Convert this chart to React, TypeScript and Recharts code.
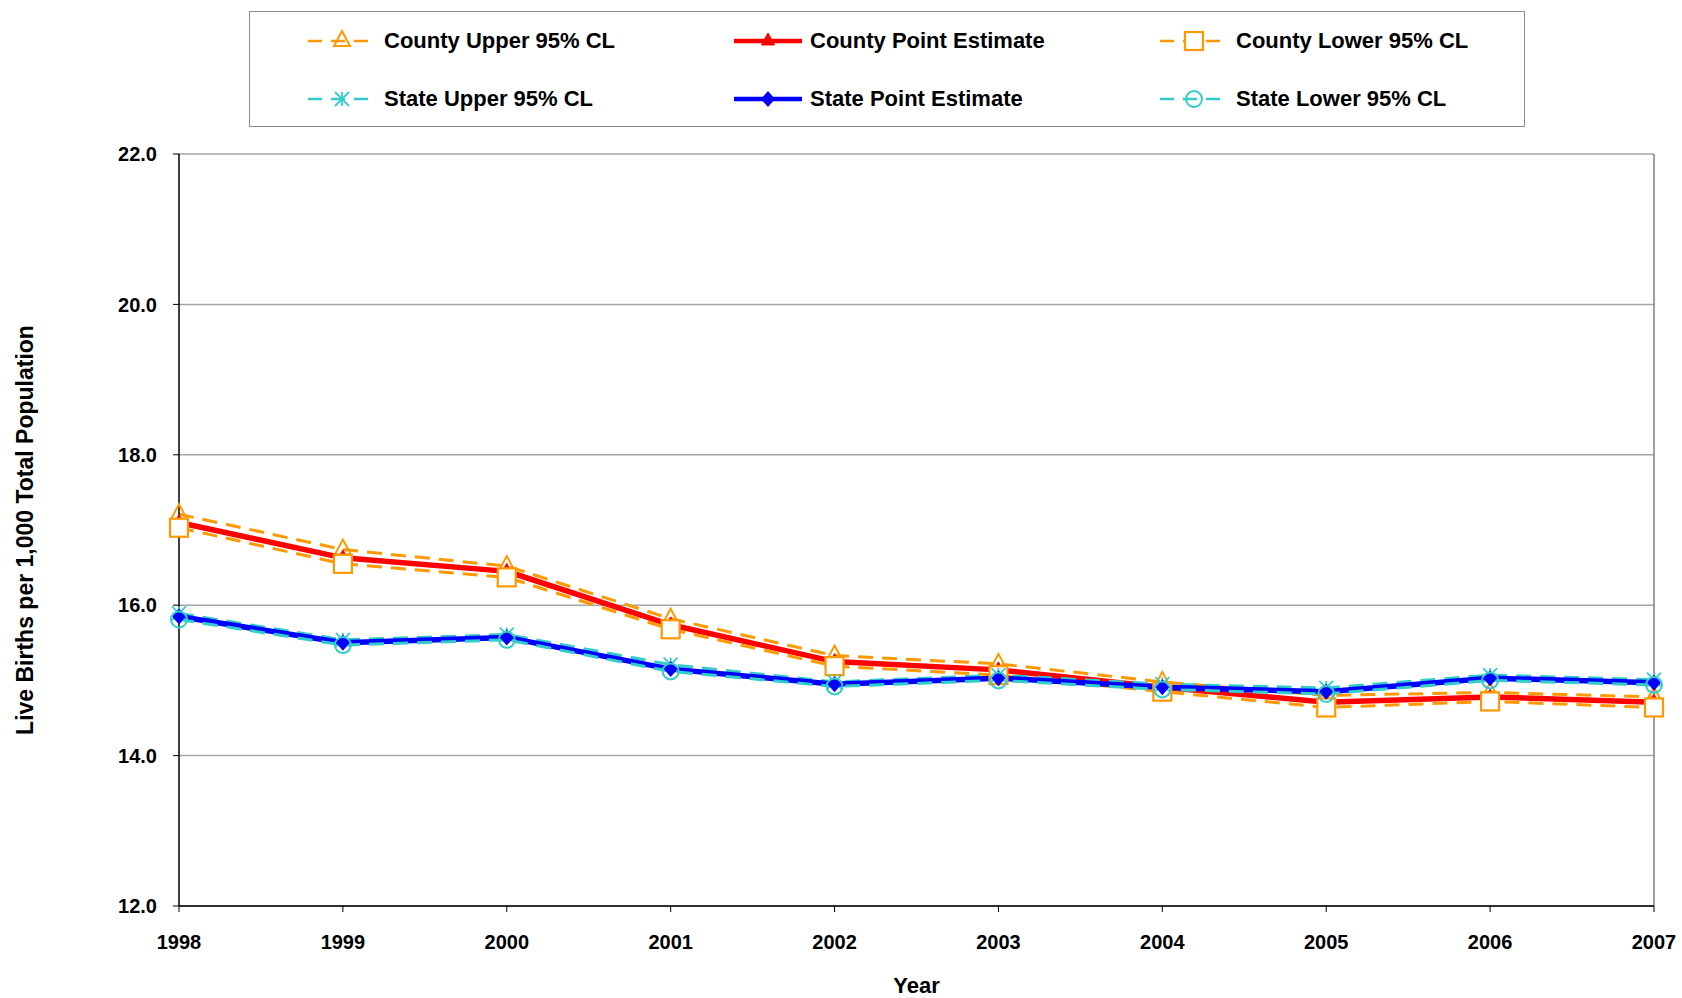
import React from "react";
import {
  LineChart,
  Line,
  XAxis,
  YAxis,
  CartesianGrid,
  ReferenceLine,
} from "recharts";

const years = ["1998", "1999", "2000", "2001", "2002", "2003", "2004", "2005", "2006", "2007"];

const countyUpper = [17.21, 16.74, 16.52, 15.82, 15.33, 15.22, 14.98, 14.8, 14.84, 14.78];
const countyPoint = [17.1, 16.63, 16.45, 15.74, 15.25, 15.14, 14.91, 14.71, 14.78, 14.71];
const countyLower = [17.03, 16.55, 16.37, 15.68, 15.19, 15.07, 14.85, 14.64, 14.72, 14.64];
const stateUpper = [15.89, 15.54, 15.61, 15.21, 14.98, 15.07, 14.95, 14.9, 15.07, 15.01];
const statePoint = [15.85, 15.5, 15.57, 15.15, 14.95, 15.03, 14.91, 14.85, 15.03, 14.97];
const stateLower = [15.81, 15.47, 15.54, 15.12, 14.92, 15.0, 14.88, 14.82, 15.0, 14.94];

const yTicks = [12, 14, 16, 18, 20, 22];

const ORANGE = "#FF9900";
const RED = "#FF0000";
const CYAN = "#33CCCC";
const BLUE = "#0000FF";
const FONT = "'Liberation Sans', Arial, sans-serif";

type MarkerKind = "triangleOpen" | "triangle" | "square" | "star" | "diamond" | "circle";

type Series = {
  key: string;
  name: string;
  color: string;
  dashed: boolean;
  marker: MarkerKind;
};

const series: Series[] = [
  { key: "countyUpper", name: "County Upper 95% CL", color: ORANGE, dashed: true, marker: "triangleOpen" },
  { key: "countyPoint", name: "County Point Estimate", color: RED, dashed: false, marker: "triangle" },
  { key: "countyLower", name: "County Lower 95% CL", color: ORANGE, dashed: true, marker: "square" },
  { key: "stateUpper", name: "State Upper 95% CL", color: CYAN, dashed: true, marker: "star" },
  { key: "statePoint", name: "State Point Estimate", color: BLUE, dashed: false, marker: "diamond" },
  { key: "stateLower", name: "State Lower 95% CL", color: CYAN, dashed: true, marker: "circle" },
];

const data = years.map((year, i) => ({
  year,
  countyUpper: countyUpper[i],
  countyPoint: countyPoint[i],
  countyLower: countyLower[i],
  stateUpper: stateUpper[i],
  statePoint: statePoint[i],
  stateLower: stateLower[i],
}));

function Marker({ kind, cx, cy, color }: { kind: MarkerKind; cx: number; cy: number; color: string }) {
  switch (kind) {
    case "triangleOpen":
      return (
        <polygon
          points={`${cx},${cy - 10} ${cx + 8},${cy + 5} ${cx - 8},${cy + 5}`}
          fill="none"
          stroke={color}
          strokeWidth={2}
        />
      );
    case "triangle":
      return (
        <polygon points={`${cx},${cy - 8} ${cx + 6.5},${cy + 4} ${cx - 6.5},${cy + 4}`} fill={color} stroke={color} strokeWidth={1} />
      );
    case "square":
      return <rect x={cx - 9} y={cy - 9} width={18} height={18} fill="#fff" stroke={color} strokeWidth={2.2} />;
    case "star":
      return (
        <g stroke={color} strokeWidth={1.8}>
          <line x1={cx - 7} y1={cy - 7} x2={cx + 7} y2={cy + 7} />
          <line x1={cx - 7} y1={cy + 7} x2={cx + 7} y2={cy - 7} />
          <line x1={cx} y1={cy - 7} x2={cx} y2={cy + 7} />
        </g>
      );
    case "diamond":
      return <polygon points={`${cx},${cy - 8} ${cx + 7},${cy} ${cx},${cy + 8} ${cx - 7},${cy}`} fill={color} />;
    case "circle":
      return <circle cx={cx} cy={cy} r={8} fill="none" stroke={color} strokeWidth={2} />;
  }
}

function makeDot(s: Series) {
  return (props: any) => {
    const { cx, cy, index } = props;
    if (cx == null || cy == null) return <g key={`${s.key}-${index}`} />;
    return (
      <g key={`${s.key}-${index}`}>
        <Marker kind={s.marker} cx={cx} cy={cy} color={s.color} />
      </g>
    );
  };
}

function LegendIcon({ s }: { s: Series }) {
  return (
    <svg width={68} height={24} style={{ display: "block" }}>
      <line
        x1={0}
        y1={12}
        x2={68}
        y2={12}
        stroke={s.color}
        strokeWidth={s.dashed ? 2.5 : 4.5}
        strokeDasharray={s.dashed ? "14 9" : undefined}
      />
      <Marker kind={s.marker} cx={34} cy={12} color={s.color} />
    </svg>
  );
}

function ChartLegend() {
  const colLeft = [58, 484, 910];
  const rowTop = [17, 75];
  return (
    <div
      style={{
        position: "absolute",
        left: 249,
        top: 11,
        width: 1276,
        height: 116,
        border: "1px solid #8c8c8c",
        background: "#fff",
        boxSizing: "border-box",
      }}
    >
      {series.map((s, i) => (
        <div
          key={s.key}
          style={{
            position: "absolute",
            left: colLeft[i % 3],
            top: rowTop[Math.floor(i / 3)],
            display: "flex",
            alignItems: "center",
            height: 24,
          }}
        >
          <LegendIcon s={s} />
          <span
            style={{
              marginLeft: 8,
              fontFamily: FONT,
              fontWeight: "bold",
              fontSize: 22,
              color: "#000",
              whiteSpace: "nowrap",
            }}
          >
            {s.name}
          </span>
        </div>
      ))}
    </div>
  );
}

export default function App() {
  return (
    <div style={{ position: "absolute", left: 0, top: 0, width: 1682, height: 998, background: "#fff" }}>
      <LineChart width={1682} height={998} data={data} margin={{ top: 154, right: 28, bottom: 62, left: 0 }}>
        <CartesianGrid horizontal vertical={false} stroke="#a6a6a6" strokeWidth={1.5} />
        <ReferenceLine x="2007" stroke="#808080" strokeWidth={1.5} />
        <XAxis
          dataKey="year"
          axisLine={{ stroke: "#000", strokeWidth: 1.5 }}
          tickLine={{ stroke: "#000" }}
          tickSize={6}
          tickMargin={23}
          tick={{ fontSize: 20, fontWeight: "bold", fill: "#000", fontFamily: FONT }}
          interval={0}
          label={{
            value: "Year",
            position: "bottom",
            offset: 41,
            style: { fontSize: 22, fontWeight: "bold", fill: "#000", fontFamily: FONT },
          }}
        />
        <YAxis
          width={179}
          domain={[12, 22]}
          ticks={yTicks}
          tickFormatter={(v) => Number(v).toFixed(1)}
          axisLine={{ stroke: "#000", strokeWidth: 1.5 }}
          tickLine={{ stroke: "#000" }}
          tickSize={6}
          tickMargin={16}
          tick={{ fontSize: 20, fontWeight: "bold", fill: "#000", fontFamily: FONT }}
          label={{
            value: "Live Births per 1,000 Total Population",
            angle: -90,
            position: "center",
            dx: -65,
            style: { fontSize: 23, fontWeight: "bold", fill: "#000", fontFamily: FONT, textAnchor: "middle" },
          }}
        />
        {series.map((s) => (
          <Line
            key={s.key}
            type="linear"
            dataKey={s.key}
            name={s.name}
            stroke={s.color}
            strokeWidth={s.dashed ? 3 : 5.5}
            strokeDasharray={s.dashed ? "15 9" : undefined}
            dot={makeDot(s)}
            activeDot={false}
            isAnimationActive={false}
          />
        ))}
      </LineChart>
      <ChartLegend />
    </div>
  );
}
